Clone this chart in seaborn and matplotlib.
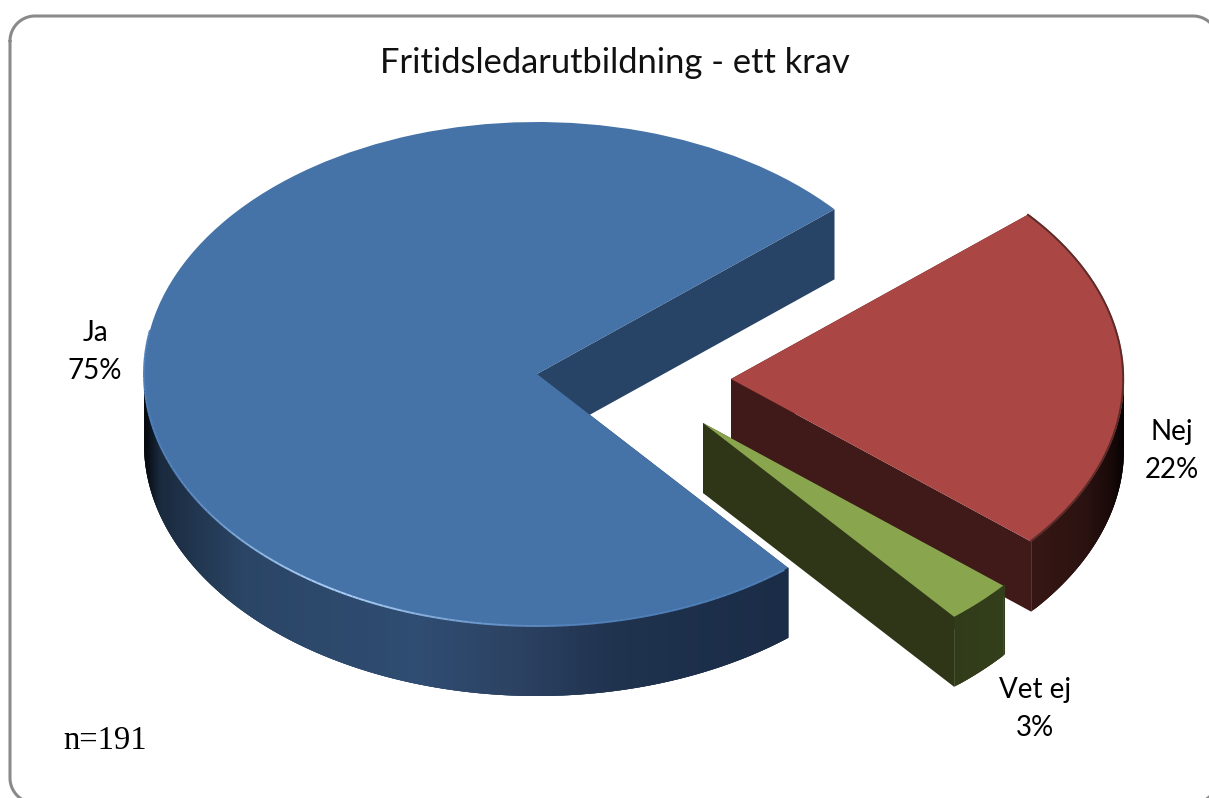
import numpy as np
import matplotlib
matplotlib.use("Agg")
import matplotlib.pyplot as plt
import matplotlib.colors as mcolors
from matplotlib.collections import LineCollection
from matplotlib.lines import Line2D
from matplotlib.transforms import IdentityTransform
import seaborn as sns

# Data
categories = ["Ja", "Vet ej", "Nej"]
values = [74.7, 2.8, 22.5]
value_labels = ["75%", "3%", "22%"]
title = "Fritidsledarutbildning - ett krav"
note = "n=191"

# Style and layout (pixels of the 1209x798 picture)
W, H = 1209, 798
top_colors = ["#4572A7", "#89A54E", "#AA4643"]
wall_colors = ["#274365", "#2F3618", "#3F1A18"]
CX, CY, RX, RY, DEPTH = 537, 374, 393, 252, 70
START = 40.8
offsets_px = [(0, 0), (166, 49), (194, 5)]
side_stops = [
    [(-1.0, "#03060b"), (-0.96, "#1a2a3e"), (-0.75, "#2a4565"), (-0.3, "#2f4c72"),
     (-0.05, "#2c4262"), (0.2, "#1f324e"), (0.7, "#192b45")],
    [(0.6, "#303a19"), (0.8, "#343f1b")],
    [(0.72, "#3a1816"), (0.9, "#2b1210"), (0.97, "#170908"), (1.0, "#050202")],
]
draw_order = [2, 1, 0]
label_pos = [(95, 352), (1035, 709), (1172, 451)]

sns.set_theme(style="white")
fig = plt.figure(figsize=(W / 100, H / 100), dpi=100, facecolor="white")
ax = fig.add_axes([0, 0, 1, 1])

angles = np.cumsum([0] + list(values)) / sum(values) * 360 + START
dz = DEPTH / RY


def shade(stops, c):
    xs = [s[0] for s in stops]
    rgb = np.array([mcolors.to_rgb(s[1]) for s in stops])
    return tuple(np.interp(c, xs, rgb[:, k]) for k in range(3))


wedges, _ = ax.pie(values, colors=top_colors, startangle=START, counterclock=True,
                   radius=1, wedgeprops=dict(linewidth=0))
ax.set_aspect("auto")
ax.set_xlim((0 - CX) / RX, (W - CX) / RX)
ax.set_ylim((CY - H) / RY, CY / RY)

for i in draw_order:
    ox, oy = offsets_px[i][0] / RX, -offsets_px[i][1] / RY
    t1, t2 = angles[i], angles[i + 1]
    wedges[i].set_center((ox, oy))
    wedges[i].set_zorder(10 + 3 * draw_order.index(i) + 2)
    z = 10 + 3 * draw_order.index(i)
    # flat cut faces, then the curved outer side
    for t in (t1, t2):
        px, py = ox + np.cos(np.radians(t)), oy + np.sin(np.radians(t))
        ax.fill([ox, px, px, ox], [oy, py, py - dz, oy - dz], color=wall_colors[i],
                lw=0, zorder=z)
    ts = np.arange(t1, t2 + 0.5, 0.5)
    ts = ts[np.sin(np.radians(ts)) <= 0.01]
    ts = np.append(ts, min(t2, ts[-1] + 0.5))
    for a, b in zip(ts[:-1], ts[1:]):
        # each slice runs on under the next one, so no seams show
        arc = np.radians(np.linspace(a, min(b + 1.0, ts[-1]), 4))
        xq = np.r_[ox + np.cos(arc), ox + np.cos(arc[::-1])]
        yq = np.r_[oy + np.sin(arc), oy + np.sin(arc[::-1]) - dz]
        col = shade(side_stops[i], np.cos(np.radians(a + 0.25)))
        ax.fill(xq, yq, color=col, lw=0, zorder=z + 1)

# Soft bevel along the rims of the top faces
rim = np.arange(170, angles[1] % 360, 1.0)
segs = [[(np.cos(np.radians(a)), np.sin(np.radians(a))),
         (np.cos(np.radians(b)), np.sin(np.radians(b)))] for a, b in zip(rim[:-1], rim[1:])]
ramp = sns.blend_palette(["#4f7fb8", "#a9cdf5"], n_colors=101)
rim_cols = [ramp[int(100 * np.exp(-((a - 238) / 22) ** 2))] for a in rim[:-1]]
ax.add_collection(LineCollection(segs, colors=rim_cols, linewidths=1.4, zorder=30))

ox, oy = offsets_px[2][0] / RX, -offsets_px[2][1] / RY
rt = np.radians(np.linspace(angles[2], angles[3], 160))
ax.plot(ox + np.cos(rt) * 0.998, oy + np.sin(rt) * 0.998, color="#5c2b29", lw=1.4, zorder=20)

# Text
font = ["Lato", "DejaVu Sans"]
fig.text(615 / W, 1 - 63 / H, title, ha="center", va="center", fontsize=24.8,
         family=font, color="#111111")
for (x, y), c, v in zip(label_pos, categories, value_labels):
    fig.text(x / W, 1 - y / H, f"{c}\n{v}", ha="center", va="center", fontsize=20,
             family=font, color="black", linespacing=1.55)
fig.text(105.5 / W, 1 - 741 / H, note, ha="center", va="center", fontsize=23.5,
         family="Liberation Serif", color="black")

# Rounded frame running past the right and bottom edges
L, T, R, B, r = 10, 16, 1218, 803, 25
q = np.linspace(0, np.pi / 2, 24)
fx = np.r_[L + r - r * np.cos(q), R - r + r * np.sin(q), R - r + r * np.cos(q), L + r - r * np.sin(q), L]
fy = np.r_[T + r - r * np.sin(q), T + r - r * np.cos(q), B - r + r * np.sin(q), B - r + r * np.cos(q), T + r]
fig.add_artist(Line2D(fx, H - fy, transform=IdentityTransform(), color="#8a8a8a", linewidth=2.2))

fig.savefig("out.png", dpi=100, facecolor="white")
